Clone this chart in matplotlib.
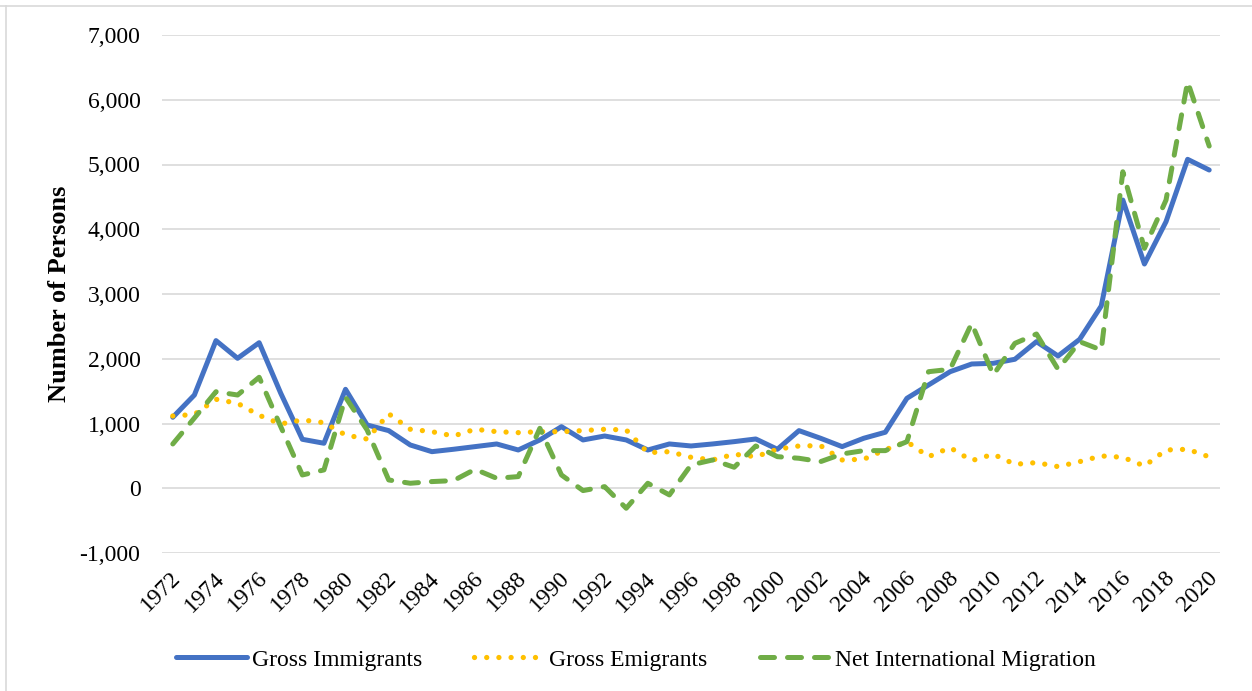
import numpy as np
import matplotlib
matplotlib.use("Agg")
import matplotlib.pyplot as plt
from matplotlib.lines import Line2D
from matplotlib.ticker import FuncFormatter
from matplotlib.transforms import ScaledTranslation

plt.rcParams['font.family'] = ['Liberation Serif', 'DejaVu Serif']

years = list(range(1972, 2021))

immigrants = [1096, 1440, 2280, 2007, 2248, 1467, 756, 695, 1528, 977,
              890, 668, 565, 602, 643, 684, 591, 746, 951, 746,
              807, 746, 591, 684, 653, 684, 720, 761, 602, 890,
              772, 643, 772, 865, 1389, 1595, 1800, 1919, 1930, 1992,
              2264, 2043, 2300, 2815, 4451, 3463, 4117, 5080, 4915]

emigrants = [1116, 1140, 1374, 1312, 1127, 993, 1055, 1013, 823, 760,
             1150, 911, 874, 807, 911, 874, 859, 874, 874, 890,
             911, 900, 550, 565, 478, 437, 525, 488, 602, 653,
             658, 437, 448, 595, 720, 488, 627, 427, 525, 370,
             396, 334, 411, 499, 478, 344, 591, 602, 485]

net_migration = [684, 1085, 1491, 1440, 1714, 951, 205, 283, 1405, 900,
                 128, 77, 103, 118, 293, 154, 180, 926, 205, -36,
                 25, -309, 77, -103, 360, 437, 324, 653, 488, 463,
                 411, 530, 581, 581, 720, 1800, 1837, 2547, 1749, 2238,
                 2382, 1837, 2264, 2135, 4888, 3705, 4451, 6278, 5285]

series_names = ['Gross Immigrants', 'Gross Emigrants', 'Net International Migration']
title_text = 'Gross Immigrants, Gross Emigrants and Net International Migration, 1972-2020'

fig = plt.figure(figsize=(12.52, 6.91), dpi=100)
ax = fig.add_axes([162 / 1252, 1 - 553 / 691, 1058 / 1252, 518 / 691])

ax.plot(years, immigrants, color='#4472C4', linewidth=3.6,
        solid_joinstyle='round', solid_capstyle='round', label=series_names[0])
ax.plot(years, emigrants, color='#FFC000', linewidth=3.8,
        linestyle=(0, (0.01, 2.3)), dash_capstyle='round', label=series_names[1])
ax.plot(years, net_migration, color='#70AD47', linewidth=3.6,
        linestyle=(0, (2.8, 2.6)), dash_capstyle='round', dash_joinstyle='round',
        label=series_names[2])

ax.set_xlim(1971.5, 2020.5)
ax.set_ylim(-1000, 7000)
ax.set_yticks(np.arange(-1000, 7001, 1000))
ax.yaxis.set_major_formatter(FuncFormatter(lambda v, p: f'{v:,.0f}'))
ax.grid(axis='y', color='#D9D9D9', linewidth=1.2)
ax.set_axisbelow(True)
for s in ax.spines.values():
    s.set_visible(False)

ax.set_xticks(years[::2])
ax.set_xticklabels([str(y) for y in years[::2]], rotation=45, ha='right',
                   va='center', rotation_mode='anchor')
ax.tick_params(axis='x', length=0, pad=16, labelsize=17)
ax.tick_params(axis='y', length=0, pad=15.5, labelsize=17)
for lab in ax.get_xticklabels():
    lab.set_transform(lab.get_transform() + ScaledTranslation(0.05, 0, fig.dpi_scale_trans))

ax.set_ylabel('Number of Persons', fontsize=19, fontweight='bold')
ax.yaxis.set_label_coords(-0.086, 0.5)

fig.legend(loc='center', bbox_to_anchor=(0.508, 0.045), ncol=3, frameon=False,
           fontsize=17, handlelength=3.0, handletextpad=0.2, columnspacing=2.2)

# title is cut off at the top of the picture, only descenders show
fig.text(0.5, 1.011, title_text, ha='center', va='baseline',
         fontsize=23, fontweight='bold')

# chart area border (top and left edges visible)
fig.add_artist(Line2D([0, 1], [1 - 5.5 / 691, 1 - 5.5 / 691], transform=fig.transFigure,
                      color='#D9D9D9', linewidth=1.2))
fig.add_artist(Line2D([6 / 1252, 6 / 1252], [0, 1 - 5.5 / 691], transform=fig.transFigure,
                      color='#D9D9D9', linewidth=1.2))

fig.savefig('out.png', dpi=100)
